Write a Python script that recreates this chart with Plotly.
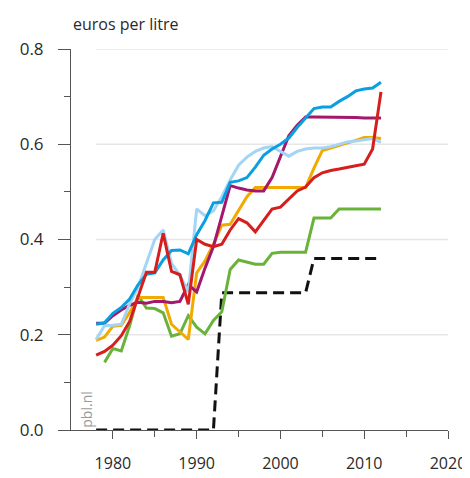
import plotly.graph_objects as go

years = list(range(1978, 2013))
green_years = list(range(1979, 2013))

blue = [0.222, 0.225, 0.245, 0.257, 0.275, 0.305, 0.327, 0.33, 0.357, 0.377,
        0.378, 0.37, 0.41, 0.44, 0.477, 0.478, 0.52, 0.523, 0.53, 0.552,
        0.577, 0.59, 0.60, 0.613, 0.635, 0.655, 0.675, 0.678, 0.678, 0.69,
        0.70, 0.712, 0.716, 0.718, 0.73]
light_blue = [0.19, 0.219, 0.22, 0.222, 0.265, 0.30, 0.35, 0.40, 0.42, 0.35,
              0.325, 0.29, 0.464, 0.45, 0.46, 0.49, 0.525, 0.556, 0.573, 0.585,
              0.592, 0.595, 0.585, 0.575, 0.585, 0.59, 0.592, 0.592, 0.595, 0.60,
              0.605, 0.607, 0.61, 0.612, 0.604]
purple = [0.224, 0.224, 0.24, 0.252, 0.262, 0.268, 0.266, 0.27, 0.27, 0.267,
          0.27, 0.305, 0.29, 0.34, 0.385, 0.447, 0.513, 0.508, 0.504, 0.502,
          0.502, 0.53, 0.574, 0.618, 0.64, 0.657, 0.657, 0.657, 0.657, 0.656,
          0.656, 0.656, 0.655, 0.655, 0.655]
red = [0.157, 0.165, 0.178, 0.198, 0.228, 0.28, 0.331, 0.331, 0.413, 0.333,
       0.326, 0.264, 0.40, 0.39, 0.385, 0.39, 0.42, 0.444, 0.435, 0.416,
       0.44, 0.464, 0.468, 0.485, 0.502, 0.51, 0.53, 0.54, 0.545, 0.548,
       0.552, 0.555, 0.558, 0.59, 0.71]
orange = [0.188, 0.195, 0.218, 0.22, 0.247, 0.278, 0.278, 0.278, 0.278, 0.222,
          0.206, 0.19, 0.33, 0.355, 0.39, 0.43, 0.432, 0.46, 0.49, 0.509,
          0.509, 0.509, 0.509, 0.509, 0.509, 0.509, 0.55, 0.587, 0.592, 0.597,
          0.602, 0.608, 0.614, 0.614, 0.612]
green = [0.142, 0.171, 0.166, 0.219, 0.283, 0.256, 0.255, 0.246, 0.197, 0.202,
         0.240, 0.216, 0.202, 0.23, 0.248, 0.337, 0.357, 0.352, 0.348, 0.348,
         0.371, 0.373, 0.373, 0.373, 0.373, 0.445, 0.445, 0.445, 0.464, 0.464,
         0.464, 0.464, 0.464, 0.464]
black_dashed = [0, 0, 0, 0, 0, 0, 0, 0, 0, 0, 0, 0, 0, 0, 0,
                0.288, 0.288, 0.288, 0.288, 0.288, 0.288, 0.288, 0.288, 0.288,
                0.288, 0.288, 0.36, 0.36, 0.36, 0.36, 0.36, 0.36, 0.36, 0.36, 0.36]

y_tickvals = [0.0, 0.2, 0.4, 0.6, 0.8]
y_ticktext = ["0.0", "0.2", "0.4", "0.6", "0.8"]
x_tickvals = [1980, 1990, 2000, 2010, 2020]
x_ticktext = ["1980", "1990", "2000", "2010", "2020"]
grid_vals = [0.2, 0.4, 0.6, 0.8]

fig = go.Figure()

series = [
    (years, black_dashed, "#111111", "11px,6px"),
    (green_years, green, "#6ab33a", "solid"),
    (years, orange, "#f2a900", "solid"),
    (years, purple, "#a3186d", "solid"),
    (years, light_blue, "#a3d5f5", "solid"),
    (years, blue, "#0a9fe0", "solid"),
    (years, red, "#d61e1e", "solid"),
]
for xs, ys, col, dash in series:
    fig.add_trace(go.Scatter(x=xs, y=ys, mode="lines",
                             line=dict(color=col, width=3, dash=dash),
                             showlegend=False, hoverinfo="skip"))

for g in grid_vals:
    fig.add_shape(type="line", xref="x", yref="y", x0=1978, x1=2020, y0=g, y1=g,
                  line=dict(color="#e6e6e6", width=1.5), layer="below")

fig.update_layout(
    width=470, height=478,
    margin=dict(l=62, r=24, t=41, b=49),
    plot_bgcolor="white", paper_bgcolor="white",
    font=dict(family="Open Sans", size=16, color="#2a2a2a"),
    showlegend=False,
    xaxis=dict(range=[1975, 2020], showgrid=False, zeroline=False,
               showline=True, linecolor="#555555", linewidth=1,
               tickmode="array", tickvals=x_tickvals, ticktext=x_ticktext,
               ticks="outside", ticklen=8, tickcolor="#555555", tickwidth=1,
               ticklabelstandoff=11, tickfont=dict(size=16),
               minor=dict(tickmode="array", tickvals=[1985, 1995, 2005, 2015],
                          ticks="outside", ticklen=6, tickcolor="#555555", tickwidth=1)),
    yaxis=dict(range=[0, 0.8], showgrid=False, zeroline=False,
               showline=True, linecolor="#555555", linewidth=1,
               tickmode="array", tickvals=y_tickvals, ticktext=y_ticktext,
               ticks="outside", ticklen=12, tickcolor="#555555", tickwidth=1,
               ticklabelstandoff=11, tickfont=dict(size=17),
               minor=dict(tickmode="array", tickvals=[0.1, 0.3, 0.5, 0.7],
                          ticks="outside", ticklen=6, tickcolor="#555555", tickwidth=1)),
)

fig.add_annotation(text="euros per litre", xref="paper", yref="paper",
                   x=0.0, y=1.0, xanchor="left", yanchor="bottom", yshift=12,
                   showarrow=False, font=dict(size=16, color="#2a2a2a"))
fig.add_annotation(text="pbl.nl", xref="paper", yref="paper",
                   x=0.039, y=0.0, xanchor="center", yanchor="bottom",
                   textangle=-90, showarrow=False,
                   font=dict(size=14, color="#9a9a9a"))

fig.write_html("out.html")
